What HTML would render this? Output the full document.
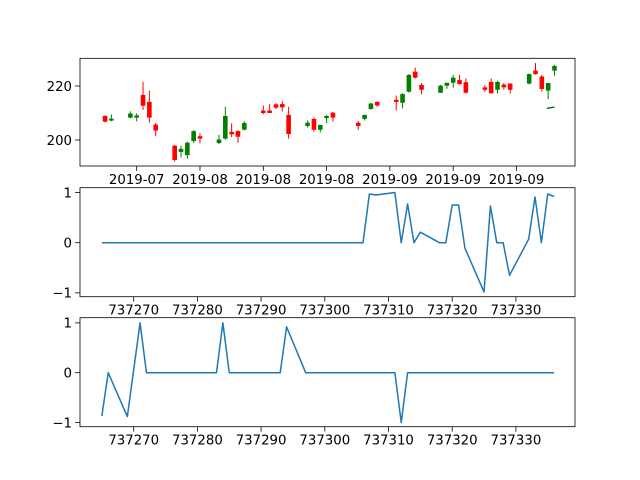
<!DOCTYPE html>
<html><head><meta charset="utf-8"><style>
html,body{margin:0;padding:0;background:#fff;}
svg{display:block;font-family:"DejaVu Sans","Liberation Sans",sans-serif;}
</style></head><body>
<svg id="fig" width="640" height="480" viewBox="0 0 640 480"></svg>
<script>
// ---------- data ----------
const candleDays=[737265,737266,737269,737270,737271,737272,737273,737276,737277,737278,737279,737280,737283,737284,737285,737286,737287,737290,737291,737292,737293,737294,737297,737298,737299,737300,737301,737305,737306,737307,737308,737311,737312,737313,737314,737315,737318,737319,737320,737321,737322,737325,737326,737327,737328,737329,737332,737333,737334,737335,737336];
const opens=[208.9,207.2,208.3,208.3,216.7,214.1,205.7,197.9,195.6,194.4,199.6,201.4,198.9,200.5,203.0,203.3,203.8,210.9,210.9,213.2,213.3,209.3,205.2,207.8,203.8,208.1,210.1,206.4,207.8,211.5,214.1,214.9,213.8,217.9,225.3,220.4,217.5,220.1,221.2,222.2,221.4,219.5,221.5,218.6,220.5,220.9,220.9,225.7,223.5,218.3,225.7];
const highs=[209.1,209.5,210.6,209.9,221.6,218.3,206.3,198.1,197.9,199.4,203.6,202.5,201.9,212.3,206.2,203.6,207.0,212.8,213.3,213.6,214.4,212.3,207.3,208.4,205.6,209.3,210.4,207.0,209.3,213.8,214.4,216.5,217.3,224.4,226.8,221.1,220.4,221.2,224.1,224.1,222.8,220.4,222.8,221.9,221.1,221.0,224.7,228.5,224.1,221.1,227.8];
const lows=[206.5,206.9,208.0,206.9,211.1,206.4,201.4,192.0,193.5,193.1,198.9,198.8,198.5,200.1,201.1,199.0,203.6,209.6,210.0,211.4,210.6,200.5,204.6,203.1,202.8,206.3,206.8,203.8,207.2,211.2,212.2,210.9,211.7,217.5,222.8,216.9,217.4,219.0,219.4,220.5,217.2,217.7,217.2,217.3,218.6,217.2,220.6,224.2,217.9,215.1,223.8];
const closes=[206.8,207.9,209.8,209.1,212.7,208.3,203.5,192.6,196.7,199.0,203.3,200.5,200.2,208.9,202.1,201.2,206.3,210.0,210.0,212.0,212.1,202.2,206.4,203.8,205.6,208.9,208.3,205.2,209.3,213.5,212.8,214.1,217.0,224.1,223.1,218.6,220.1,221.2,223.1,220.7,217.5,218.6,217.3,221.5,219.5,218.6,224.4,224.4,218.9,221.1,227.4];
const extraLineDays=[737334.8,737336];
const extraLineVals=[211.7,212.2];
const topTickDays=[737270,737280,737290,737300,737310,737320,737330];
const topTickLabels=["2019-07","2019-08","2019-08","2019-08","2019-09","2019-09","2019-09"];
const topYTicks=[200,220];
const midDays=[737265,737306,737307,737308,737311,737312,737313,737314,737315,737318,737319,737320,737321,737322,737325,737326,737327,737328,737329,737332,737333,737334,737335,737336];
const midVals=[0,0,0.97,0.95,1.0,0,0.77,0,0.21,0,0,0.75,0.75,-0.11,-0.98,0.73,0,0,-0.65,0.07,0.91,0,0.97,0.92];
const botDays=[737265,737266,737269,737271,737272,737283,737284,737285,737293,737294,737297,737311,737312,737313,737336];
const botVals=[-0.87,0,-0.88,1.0,0,0,1.0,0,0,0.92,0,0,-1.0,0,0];
const numTicks=[737270,737280,737290,737300,737310,737320,737330];
const unitYTicks=[-1,0,1];

// ---------- helpers ----------
const NS="http://www.w3.org/2000/svg";
const fig=document.getElementById('fig');
function mk(tag,attrs,parent){const e=document.createElementNS(NS,tag);for(const k in attrs)e.setAttribute(k,attrs[k]);(parent||fig).appendChild(e);return e;}
const L=80,R=575;
const xTop=d=>136.7+(d-737270)*6.33;
const xNum=d=>133.7+(d-737270)*6.37;
const yTop=v=>140-(v-200)*2.7;
const yMid=v=>242.7-v*50.2;
const yBot=v=>372.7-v*49.8;

function axesFrame(top,bottom,name){
  const r=mk('rect',{x:L,y:top,width:R-L,height:bottom-top,fill:'none',stroke:'#000','stroke-width':0.8});
  
  
}
function xticks(days,labels,xf,bottom,name){
  days.forEach((d,i)=>{
    const x=xf(d);
    const t=mk('line',{x1:x,x2:x,y1:bottom,y2:bottom+4.9,stroke:'#000','stroke-width':0.8});
    
    
    const tx=mk('text',{x:x,y:bottom+18,'text-anchor':'middle','font-size':13.3,fill:'#000'});
    tx.textContent=labels[i];
    
    
  });
}
function yticks(vals,yf,name){
  vals.forEach(v=>{
    const y=yf(v);
    const t=mk('line',{x1:L-4.9,x2:L,y1:y,y2:y,stroke:'#000','stroke-width':0.8});
    
    
    const tx=mk('text',{x:L-8,y:y+4.8,'text-anchor':'end','font-size':13.3,fill:'#000'});
    tx.textContent=(v<0?'\u2212'+Math.abs(v):String(v));
    
    
  });
}
function series(days,vals,xf,yf,name){
  const pts=days.map((d,i)=>xf(d).toFixed(2)+','+yf(vals[i]).toFixed(2)).join(' ');
  const p=mk('polyline',{points:pts,fill:'none',stroke:'#1f77b4','stroke-width':1.5,'stroke-linejoin':'round'});
  
  
}

// ---------- top: candlesticks ----------
candleDays.forEach((d,i)=>{
  const up=closes[i]>=opens[i];
  const col=up?'#008000':'#ff0000';
  const x=xTop(d);
  const w=mk('line',{x1:x,x2:x,y1:yTop(highs[i]),y2:yTop(lows[i]),stroke:col,'stroke-width':1});
  
  
  const top=yTop(Math.max(opens[i],closes[i])),bot=yTop(Math.min(opens[i],closes[i]));
  const b=mk('rect',{x:x-2.3,y:top,width:4.6,height:Math.max(bot-top,1),fill:col});
  
  
});
const el=mk('line',{x1:xTop(extraLineDays[0]),y1:yTop(extraLineVals[0]),x2:xTop(extraLineDays[1]),y2:yTop(extraLineVals[1]),stroke:'#008000','stroke-width':1.5});


axesFrame(58.3,166,'price-axes');
xticks(topTickDays,topTickLabels,xTop,166,'date-axis');
yticks(topYTicks,yTop,'price-axis');

// ---------- middle ----------
series(midDays,midVals,xNum,yMid,'middle-series-line');
axesFrame(187.7,296.7,'middle-axes');
xticks(numTicks,numTicks.map(String),xNum,296.7,'middle-x-axis');
yticks(unitYTicks,yMid,'middle-y-axis');

// ---------- bottom ----------
series(botDays,botVals,xNum,yBot,'bottom-series-line');
axesFrame(317.7,426.7,'bottom-axes');
xticks(numTicks,numTicks.map(String),xNum,426.7,'bottom-x-axis');
yticks(unitYTicks,yBot,'bottom-y-axis');
</script>
</body></html>
